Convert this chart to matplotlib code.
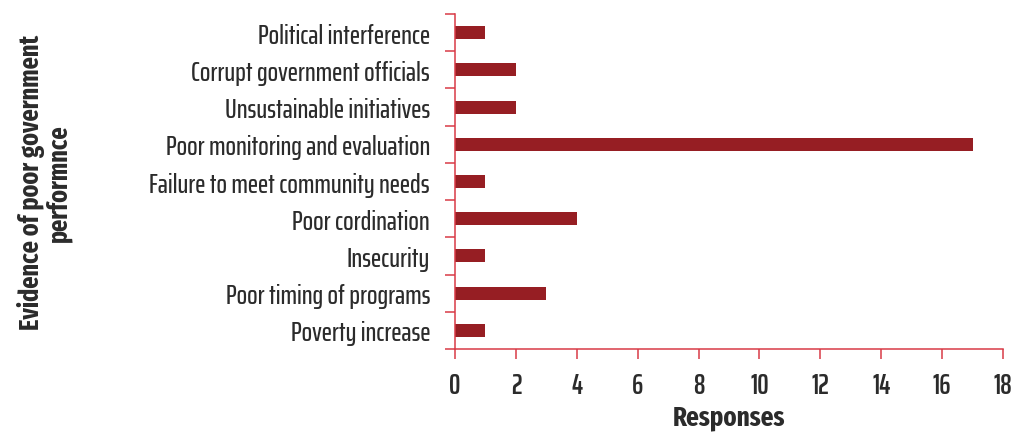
import matplotlib
matplotlib.use('Agg')
import matplotlib.pyplot as plt
import numpy as np

categories = ['Political interference', 'Corrupt government officials', 'Unsustainable initiatives',
              'Poor monitoring and evaluation', 'Failure to meet community needs', 'Poor cordination',
              'Insecurity', 'Poor timing of programs', 'Poverty increase']
responses = [1, 2, 2, 17, 1, 4, 1, 3, 1]
xticks = np.arange(0, 19, 2)

bar_color = '#961e23'
axis_color = '#d83a46'
text_color = '#2b2b2b'
tick_font = ['Saira ExtraCondensed', 'DejaVu Sans']
label_font = ['Fira Sans Extra Condensed', 'DejaVu Sans']

fig = plt.figure(figsize=(10.17, 4.35), dpi=100)
ax = fig.add_axes([0.4474, 0.1954, 0.5388, 0.7701])

y = np.arange(len(categories))[::-1]
ax.barh(y, responses, height=0.35, color=bar_color)

ax.set_xlim(0, 18)
ax.set_ylim(-0.5, len(categories) - 0.5)
ax.set_xticks(xticks)
ax.set_xticklabels([str(v) for v in xticks], family=tick_font, fontsize=20.5, weight=600, color=text_color)
ax.set_yticks(y)
ax.set_yticklabels(categories, family=tick_font, fontsize=19.8, weight=500, color=text_color)
# boundary ticks between categories
ax.set_yticks(np.arange(-0.5, len(categories), 1), minor=True)
ax.tick_params(axis='y', which='major', length=0, pad=18)
ax.tick_params(axis='y', which='minor', length=7, width=1.1, color=axis_color)
ax.tick_params(axis='x', length=7, width=1.1, color=axis_color, pad=9)

for s in ['top', 'right']:
    ax.spines[s].set_visible(False)
for s in ['left', 'bottom']:
    ax.spines[s].set_color(axis_color)
    ax.spines[s].set_linewidth(1.1)

ax.set_xlabel('Responses', family=label_font, fontsize=19.5, weight='bold', color=text_color, labelpad=3)
fig.text(0.044, 0.58, 'Evidence of poor government\nperformnce', rotation=90, ha='center', va='center',
         family=label_font, fontsize=19, weight='bold', color=text_color, linespacing=1.0)

fig.savefig('out.png', dpi=100)
